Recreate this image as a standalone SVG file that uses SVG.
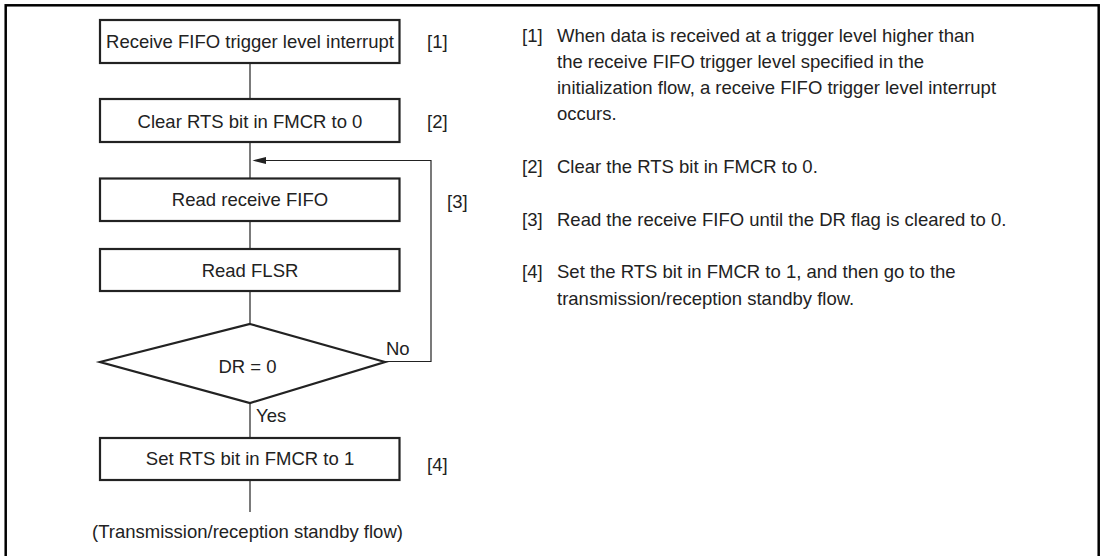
<svg xmlns="http://www.w3.org/2000/svg" width="1103" height="556" viewBox="0 0 1103 556">
<defs>
<style>
.t{font-family:"Liberation Sans",Arial,sans-serif;font-size:18.5px;fill:#222}
.m{text-anchor:middle}
.box{fill:#fff;stroke:#222;stroke-width:2.2}
.ln{fill:none;stroke:#222;stroke-width:1.2}
</style>
<marker id="ah" markerWidth="14" markerHeight="8" refX="1" refY="4" orient="auto" markerUnits="userSpaceOnUse">
<path d="M0,4 L14,0 L14,8 Z" fill="#222"/>
</marker>
</defs>
<rect width="1103" height="556" fill="#fff"/>
<rect x="5.7" y="5.3" width="1093" height="600" fill="none" stroke="#000" stroke-width="2.5"/>
<g id="connectors">
<line class="ln" x1="250" y1="63" x2="250" y2="99"/>
<line class="ln" x1="250" y1="142" x2="250" y2="178"/>
<line class="ln" x1="250" y1="221" x2="250" y2="249"/>
<line class="ln" x1="250" y1="291" x2="250" y2="324"/>
<line class="ln" x1="250" y1="403" x2="250" y2="438"/>
<line class="ln" x1="250" y1="480" x2="250" y2="512"/>
<polyline class="ln" points="385,361.5 431,361.5 431,160.5 266,160.5"/>
<path d="M252.5,160.5 L266,157 L266,164 Z" fill="#222"/>
</g>
<g id="n1"><rect class="box" x="100" y="20" width="299.5" height="43" stroke-width="2.8"/><text class="t m" x="250" y="47.5">Receive FIFO trigger level interrupt</text><text class="t" x="427" y="47.5">[1]</text></g>
<g id="n2"><rect class="box" x="100" y="99" width="299.5" height="43"/><text class="t m" x="250" y="127.5">Clear RTS bit in FMCR to 0</text><text class="t" x="427" y="127.5">[2]</text></g>
<g id="n3"><rect class="box" x="100" y="178.5" width="299.5" height="42.5"/><text class="t m" x="250" y="206">Read receive FIFO</text></g>
<g id="lbl3"><text class="t" x="447" y="208">[3]</text></g>
<g id="n4"><rect class="box" x="100" y="249" width="299.5" height="42"/><text class="t m" x="250" y="277">Read FLSR</text></g>
<g id="n5"><polygon class="box" points="250,324 385,362 250,403 100,362"/><text class="t m" x="247.5" y="372.5">DR = 0</text><text class="t" x="386" y="355">No</text><text class="t" x="256" y="421.5">Yes</text></g>
<g id="n6"><rect class="box" x="100" y="438" width="299.5" height="42"/><text class="t m" x="250" y="465">Set RTS bit in FMCR to 1</text><text class="t" x="427" y="471">[4]</text></g>
<g id="n7"><text class="t m" x="247.5" y="538">(Transmission/reception standby flow)</text></g>
<g id="notes">
<text class="t" x="522" y="42">[1]</text>
<text class="t" x="557" y="42">When data is received at a trigger level higher than</text>
<text class="t" x="557" y="68">the receive FIFO trigger level specified in the</text>
<text class="t" x="557" y="94">initialization flow, a receive FIFO trigger level interrupt</text>
<text class="t" x="557" y="120">occurs.</text>
<text class="t" x="522" y="173">[2]</text>
<text class="t" x="557" y="173">Clear the RTS bit in FMCR to 0.</text>
<text class="t" x="522" y="225.5">[3]</text>
<text class="t" x="557" y="225.5">Read the receive FIFO until the DR flag is cleared to 0.</text>
<text class="t" x="522" y="278">[4]</text>
<text class="t" x="557" y="278">Set the RTS bit in FMCR to 1, and then go to the</text>
<text class="t" x="557" y="304.5">transmission/reception standby flow.</text>
</g>
</svg>
